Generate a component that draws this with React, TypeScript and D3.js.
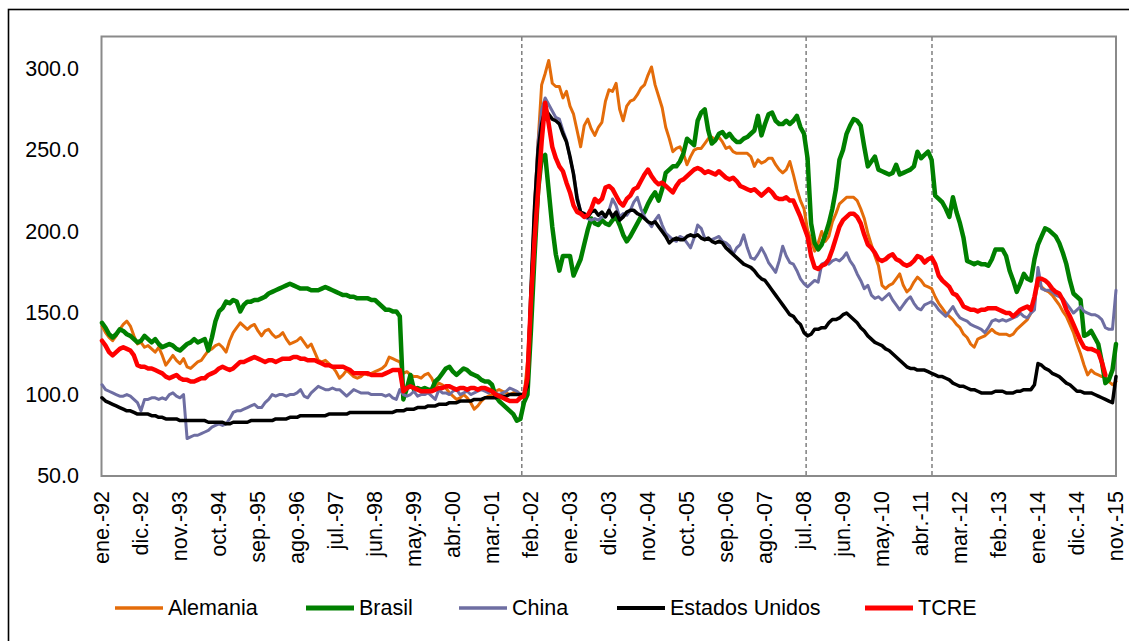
import React from "react";
import * as d3 from "d3";

// ---- data (monthly index, ene-92 .. nov-15) ----
const tickLabels = [
  "ene.-92", "dic.-92", "nov.-93", "oct.-94", "sep.-95", "ago.-96", "jul.-97", "jun.-98", "may.-99",
  "abr.-00", "mar.-01", "feb.-02", "ene.-03", "dic.-03", "nov.-04", "oct.-05", "sep.-06", "ago.-07",
  "jul.-08", "jun.-09", "may.-10", "abr.-11", "mar.-12", "feb.-13", "ene.-14", "dic.-14", "nov.-15",
];
const tickStep = 11;
const yTicks = [50, 100, 150, 200, 250, 300];
const yDomain = [50, 320];
const eventMonths = [118.4, 198.6, 234.1];

const alemania = [
  142, 138, 135, 133, 136, 140, 143, 145, 142, 136, 131, 132,
  129, 130, 128, 126, 129, 124, 118, 121, 124, 121, 119, 122,
  117, 116, 118, 120, 121, 124, 127, 128, 130, 131, 129, 126,
  133, 138, 141, 144, 142, 140, 142, 143, 139, 136, 139, 140,
  137, 135, 136, 138, 134, 131, 132, 133, 135, 132, 129, 131,
  126, 121, 120, 121, 119, 117, 114, 110, 112, 115, 113, 111,
  110, 111, 113, 112, 113, 114, 115, 116, 118, 123, 122, 121,
  120, 113, 114, 112, 111, 111, 110, 112, 113, 110, 105, 107,
  106, 104, 101, 99, 97, 98, 100, 98, 95, 91, 93, 96,
  98, 99, 100, 102, 103, 102, 101, 100, 101, 102, 100, 98,
  120, 160, 215, 255, 290, 297, 305, 291, 289, 289, 282, 286,
  277, 272, 262, 252, 265, 269, 263, 259, 264, 267, 280, 287,
  286, 291, 275, 268, 277, 280, 281, 284, 288, 290, 296, 301,
  290, 283, 276, 264, 257, 249, 251, 252, 248, 241, 246, 250,
  251, 251, 254, 257, 258, 256, 258, 255, 251, 252, 249, 248,
  248, 248, 248, 246, 240, 244, 242, 243, 245, 245, 241, 238,
  236, 238, 243, 235, 226, 219, 214, 201, 195, 188, 193, 200,
  194, 197, 206, 211, 217, 219, 221, 221, 221, 219, 214, 208,
  199, 192, 185, 179, 167, 165, 167, 168, 171, 174, 167, 163,
  165, 169, 172, 170, 167, 166, 165, 160, 156, 153, 150, 148,
  146, 143, 141, 137, 135, 131, 129, 134, 135, 136, 138, 140,
  138, 137, 137, 137, 136, 137, 140, 142, 144, 146, 150, 157,
  168, 166, 164, 163, 161, 158, 155, 151, 148, 143, 138, 131,
  125, 118, 112, 115, 113, 112, 111, 111, 108, 106, 108,
];

const brasil = [
  144, 141, 137, 135, 137, 140, 139, 137, 136, 134, 132, 133,
  136, 134, 132, 134, 131, 129, 130, 131, 130, 128, 127, 129,
  131, 132, 134, 132, 133, 134, 127, 135, 145, 151, 153, 157,
  156, 158, 157, 151, 155, 157, 157, 158, 158, 159, 160, 162,
  163, 164, 165, 166, 167, 168, 167, 166, 165, 165, 165, 164,
  164, 164, 165, 166, 165, 164, 163, 162, 161, 161, 160, 160,
  159, 159, 159, 159, 158, 158, 156, 154, 152, 152, 151, 151,
  148, 97, 104, 112, 103, 104, 103, 104, 103, 103, 108, 110,
  113, 116, 117, 114, 112, 114, 116, 115, 113, 112, 111, 109,
  108, 108, 106, 99, 96, 94, 92, 90, 88, 84, 85, 95,
  100, 140, 185, 225, 245, 247, 225, 203, 186, 176, 185, 185,
  185, 173, 178, 183, 192, 201, 208, 205, 204, 207, 205, 204,
  207, 209, 204, 198, 194, 197, 201, 205, 209, 212, 217, 221,
  224, 219, 226, 236, 238, 240, 240, 243, 248, 257, 255, 253,
  268, 273, 275, 262, 254, 256, 260, 261, 258, 260, 257, 255,
  255, 257, 258, 260, 262, 271, 259, 266, 272, 273, 268, 266,
  266, 268, 266, 268, 271, 264, 260, 245, 205, 193, 189, 192,
  198, 205, 214, 226, 244, 250, 260, 265, 269, 268, 265, 252,
  240, 243, 246, 238, 237, 236, 235, 236, 241, 235, 236, 237,
  238, 240, 249, 245, 247, 249, 244, 222, 220, 218, 214, 209,
  221, 212, 205, 196, 182, 181, 180, 181, 180, 180, 179, 183,
  189, 189, 189, 185, 176, 170, 163, 168, 174, 171, 170, 183,
  192, 197, 202, 201, 199, 197, 193, 187, 180, 170, 162, 160,
  158, 136, 137, 139, 135, 131, 120, 107, 109, 115, 131,
];

const china = [
  106, 103, 102, 101, 100, 99, 99, 100, 99, 97, 95, 90,
  97, 97, 98, 98, 97, 98, 97, 100, 101, 99, 98, 100,
  73, 74, 75, 75, 76, 77, 78, 80, 81, 82, 81, 82,
  85, 89, 90, 90, 91, 92, 93, 94, 92, 92, 95, 97,
  100, 99, 100, 100, 99, 100, 100, 101, 103, 99, 98, 101,
  103, 105, 104, 103, 103, 104, 103, 103, 101, 99, 101, 103,
  102, 101, 101, 101, 100, 100, 100, 100, 99, 100, 98, 97,
  103, 100, 99, 100, 102, 99, 100, 100, 101, 99, 97, 103,
  101, 101, 100, 102, 103, 100, 101, 102, 100, 101, 102, 103,
  102, 101, 102, 101, 100, 101, 102, 104, 103, 102, 100, 100,
  110, 160, 215, 255, 275, 282, 278, 274, 270, 269, 262, 256,
  245, 236, 222, 212, 209, 208, 207, 208, 207, 209, 209, 213,
  220, 216, 209, 211, 210, 213, 218, 221, 214, 209, 206, 203,
  207, 210, 204, 199, 197, 195, 194, 197, 196, 193, 190, 196,
  204, 202, 196, 195, 195, 196, 197, 194, 193, 191, 186, 190,
  192, 198, 190, 184, 183, 186, 190, 186, 181, 178, 175, 182,
  191, 185, 181, 180, 176, 171, 168, 166, 168, 170, 169, 180,
  181, 180, 182, 183, 182, 184, 187, 182, 179, 174, 170, 165,
  167, 161, 159, 160, 158, 160, 162, 158, 155, 152, 155, 158,
  160, 156, 153, 152, 155, 156, 157, 155, 152, 150, 148, 151,
  154, 150, 147, 146, 145, 143, 142, 141, 140, 138, 141, 145,
  146, 145, 146, 145, 146, 147, 148, 150, 148, 147, 150, 152,
  178, 165, 164, 164, 163, 161, 160, 159, 156, 153, 150, 152,
  154, 151, 150, 149, 149, 148, 146, 141, 140, 140, 164,
];

const estadosUnidos = [
  98, 96, 95, 94, 93, 92, 91, 90, 90, 89, 88, 88,
  88, 88, 87, 87, 86, 86, 85, 85, 85, 85, 84, 84,
  84, 84, 84, 84, 84, 84, 83, 83, 83, 83, 83, 82,
  82, 83, 83, 83, 83, 83, 84, 84, 84, 84, 84, 84,
  84, 85, 85, 85, 85, 86, 86, 86, 87, 87, 87, 87,
  87, 87, 87, 87, 88, 88, 88, 88, 88, 88, 89, 89,
  89, 89, 89, 89, 89, 89, 89, 89, 89, 89, 89, 90,
  90, 90, 91, 91, 91, 92, 92, 92, 93, 93, 93, 94,
  94, 94, 95, 95, 95, 96, 96, 96, 96, 97, 97, 97,
  98, 98, 98, 98, 99, 99, 99, 100, 100, 100, 100, 100,
  105, 165, 215, 250, 266, 275, 272, 269, 268, 266, 260, 255,
  246, 235, 220, 212, 211, 209, 212, 213, 210, 212, 209, 213,
  209, 212, 207, 209, 212, 213, 213, 211, 210, 208, 206, 205,
  206, 203, 200, 197, 193, 195, 196, 195, 195, 197, 198, 197,
  198, 196, 195, 196, 194, 193, 194, 193, 190, 188, 186, 184,
  182, 180, 179, 178, 176, 173, 171, 170, 167, 164, 161, 158,
  155, 152, 149, 148, 145, 143, 138, 136, 137, 140, 140, 141,
  141, 144, 146, 146, 147, 149, 150, 148, 146, 144, 141, 139,
  136, 134, 132, 131, 130, 128, 127, 125, 123, 121, 119, 117,
  116, 116, 115, 115, 115, 114, 113, 112, 111, 111, 110, 109,
  107, 106, 105, 105, 104, 103, 103, 102, 101, 101, 101, 101,
  102, 102, 102, 101, 101, 101, 102, 102, 103, 103, 103, 106,
  119, 118, 116, 115, 113, 112, 111, 109, 107, 106, 104, 102,
  102, 101, 101, 101, 100, 99, 98, 97, 96, 95, 111,
];

const tcre = [
  133, 130, 126, 124, 126, 128, 129, 128, 127, 124, 118, 117,
  117, 116, 116, 115, 114, 113, 111, 110, 111, 112, 110, 109,
  109, 108, 108, 109, 110, 110, 112, 113, 114, 116, 117, 116,
  115, 116, 118, 120, 120, 121, 122, 123, 122, 121, 120, 121,
  121, 120, 121, 122, 122, 122, 123, 123, 122, 122, 121, 121,
  121, 120, 119, 118, 118, 117, 117, 117, 117, 116, 115, 113,
  113, 113, 113, 113, 112, 112, 112, 112, 113, 114, 115, 115,
  115, 102, 104, 105, 104, 103, 102, 102, 102, 102, 103, 104,
  104, 105, 105, 104, 103, 104, 104, 103, 104, 104, 103, 104,
  104, 103, 102, 100, 99, 98, 97, 96, 96, 96, 98, 99,
  110, 158, 195, 225, 255, 279, 266, 252, 245, 240, 237, 230,
  224, 216, 212, 211, 209, 210, 214, 220, 218, 220, 227, 228,
  226, 222, 218, 216, 220, 222, 226, 227, 231, 235, 238, 234,
  231, 229, 230, 228, 226, 224, 228, 231, 232, 234, 236, 238,
  239, 238, 236, 237, 236, 235, 237, 235, 233, 232, 233, 231,
  228, 227, 226, 225, 226, 224, 222, 224, 226, 224, 221, 220,
  220, 221, 219, 219, 214, 209, 203, 197, 185, 178, 177, 179,
  180, 183, 189, 196, 203, 207, 209, 211, 211, 209, 205, 198,
  192, 190, 187, 183, 182, 183, 185, 186, 183, 182, 180, 179,
  180, 182, 185, 184, 181, 183, 184, 180, 173, 170, 168, 166,
  162, 161, 158, 154, 153, 152, 152, 151, 152, 152, 153, 153,
  153, 152, 151, 150, 150, 148, 150, 152, 153, 154, 152, 160,
  171, 171, 170, 168, 165, 163, 162, 158, 152, 148, 143, 138,
  133, 129, 128, 128, 127, 126, 120, 112,
];

const seriesNames = ["Alemania", "Brasil", "China", "Estados Unidos", "TCRE"];
const seriesValues = [alemania, brasil, china, estadosUnidos, tcre];
const seriesColors = ["#E46C0A", "#008000", "#6E6EA2", "#000000", "#FF0000"];
const seriesWidths = [3, 4.5, 3, 3.5, 4.5];
const legendX = [115, 306, 459, 617, 865];

const nMonths = 287;
const FONT = "'Liberation Sans', Arial, sans-serif";

export default function App() {
  const plot = { left: 102, right: 1116, top: 36, bottom: 476 };
  const x = d3.scaleLinear().domain([0, nMonths - 1]).range([plot.left, plot.right]);
  const y = d3.scaleLinear().domain(yDomain).range([plot.bottom, plot.top]);
  const line = d3
    .line<number>()
    .x((_, i) => x(i))
    .y((d) => y(d));

  const series = seriesNames.map((name, k) => ({
    name,
    values: seriesValues[k],
    color: seriesColors[k],
    width: seriesWidths[k],
  }));

  return (
    <svg
      width={1129}
      height={641}
      style={{ position: "absolute", left: 0, top: 0, background: "#fff" }}
      fontFamily={FONT}
    >
      <rect x={0} y={0} width={1129} height={641} fill="#fff" />
      {/* outer chart frame */}
      <rect x={8.5} y={9.5} width={1150} height={680} fill="none" stroke="#000" strokeWidth={1.6} />

      {/* plot area border */}
      <rect
        x={plot.left - 0.5}
        y={plot.top + 0.5}
        width={plot.right - plot.left + 0.5}
        height={plot.bottom - plot.top - 0.5}
        fill="none"
        stroke="#8a8a8a"
        strokeWidth={2}
      />

      {/* event dashed lines */}
      {eventMonths.map((m, i) => (
        <line
          key={i}
          x1={x(m)}
          x2={x(m)}
          y1={plot.top + 1}
          y2={plot.bottom}
          stroke="#7f7f7f"
          strokeWidth={1.5}
          strokeDasharray="4,3"
        />
      ))}

      {/* y axis labels */}
      {yTicks.map((t) => (
        <text
          key={t}
          x={79}
          y={y(t)}
          textAnchor="end"
          dominantBaseline="central"
          fontSize={21.5}
          fill="#000"
        >
          {t.toFixed(1)}
        </text>
      ))}

      {/* x axis labels */}
      {tickLabels.map((lab, k) => {
        const xi = x(k * tickStep);
        return (
          <text
            key={lab}
            transform={`translate(${xi},${491}) rotate(-90)`}
            textAnchor="end"
            dominantBaseline="central"
            fontSize={21.5}
            fill="#000"
          >
            {lab}
          </text>
        );
      })}

      {/* series */}
      {series.map((s) => (
        <path
          key={s.name}
          d={line(s.values) || ""}
          fill="none"
          stroke={s.color}
          strokeWidth={s.width}
          strokeLinejoin="round"
          strokeLinecap="round"
        />
      ))}

      {/* legend */}
      {series.map((s, k) => (
        <g key={s.name} transform={`translate(${legendX[k]},608)`}>
          <line x1={0} x2={48} y1={0} y2={0} stroke={s.color} strokeWidth={s.width + 0.5} />
          <text x={53} y={0} dominantBaseline="central" fontSize={21.5} fill="#000">
            {s.name}
          </text>
        </g>
      ))}
    </svg>
  );
}
